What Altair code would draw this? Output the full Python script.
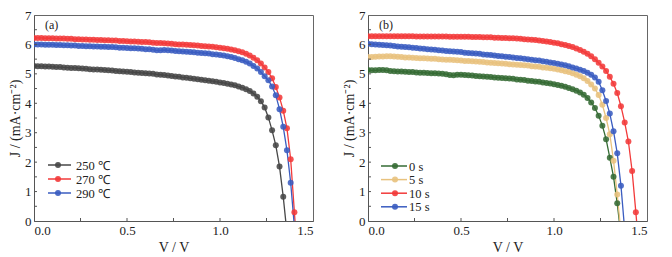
import altair as alt
import pandas as pd

STEP = 0.02

# ---- Panel (a): annealing temperature ----
a_labels = ["250 ℃", "270 ℃", "290 ℃"]
a_colors = ["#474747", "#f23a3a", "#3a5cc0"]
j_250 = [5.27, 5.26, 5.26, 5.25, 5.25, 5.24, 5.23, 5.23, 5.22, 5.21, 5.20, 5.20, 5.19, 5.18, 5.17, 5.16,
         5.15, 5.15, 5.14, 5.13, 5.12, 5.11, 5.10, 5.09, 5.08, 5.07, 5.06, 5.05, 5.04, 5.03, 5.02, 5.01,
         5.00, 4.98, 4.97, 4.96, 4.94, 4.93, 4.91, 4.90, 4.88, 4.87, 4.85, 4.83, 4.82, 4.80, 4.78, 4.77,
         4.75, 4.73, 4.71, 4.69, 4.66, 4.64, 4.61, 4.57, 4.53, 4.48, 4.42, 4.33, 4.22, 4.07, 3.86, 3.52,
         3.08, 2.57, 1.85, 0.82, -0.40]
j_270 = [6.22, 6.22, 6.22, 6.21, 6.21, 6.21, 6.20, 6.20, 6.20, 6.19, 6.19, 6.18, 6.18, 6.17, 6.17, 6.16,
         6.16, 6.15, 6.15, 6.14, 6.14, 6.13, 6.13, 6.12, 6.12, 6.11, 6.10, 6.10, 6.09, 6.08, 6.08, 6.07,
         6.06, 6.05, 6.05, 6.04, 6.03, 6.02, 6.01, 6.00, 6.00, 5.99, 5.98, 5.97, 5.96, 5.95, 5.94, 5.93,
         5.92, 5.90, 5.89, 5.87, 5.85, 5.83, 5.80, 5.77, 5.73, 5.68, 5.62, 5.55, 5.46, 5.35, 5.22, 5.06,
         4.85, 4.55, 4.20, 3.75, 3.15, 2.10, 0.30, -1.50]
j_290 = [6.00, 6.00, 6.00, 5.99, 5.99, 5.99, 5.98, 5.98, 5.97, 5.97, 5.96, 5.96, 5.95, 5.95, 5.94, 5.94,
         5.93, 5.93, 5.92, 5.92, 5.91, 5.91, 5.90, 5.89, 5.89, 5.88, 5.87, 5.87, 5.86, 5.85, 5.84, 5.84,
         5.82, 5.80, 5.80, 5.81, 5.80, 5.79, 5.78, 5.77, 5.76, 5.75, 5.74, 5.73, 5.72, 5.71, 5.70, 5.69,
         5.67, 5.66, 5.64, 5.62, 5.60, 5.57, 5.54, 5.50, 5.46, 5.41, 5.35, 5.27, 5.18, 5.06, 4.92, 4.78,
         4.57, 4.27, 3.80, 3.20, 2.40, 1.30, -0.20]

# ---- Panel (b): treatment time ----
b_labels = ["0 s", "5 s", "10 s", "15 s"]
b_colors = ["#356b34", "#e8c27e", "#f23a3a", "#3a5cc0"]
j_0s = [5.13, 5.12, 5.12, 5.13, 5.13, 5.12, 5.10, 5.09, 5.08, 5.08, 5.07, 5.06, 5.06, 5.05, 5.04, 5.04,
        5.03, 5.02, 5.02, 5.01, 5.00, 4.99, 4.96, 4.95, 4.97, 4.97, 4.96, 4.95, 4.94, 4.93, 4.92, 4.91,
        4.90, 4.89, 4.88, 4.87, 4.86, 4.85, 4.84, 4.83, 4.81, 4.80, 4.79, 4.77, 4.76, 4.74, 4.73, 4.71,
        4.69, 4.67, 4.65, 4.62, 4.60, 4.56, 4.52, 4.48, 4.43, 4.37, 4.29, 4.18, 4.03, 3.84, 3.58, 3.24,
        2.78, 2.15, 1.50, 0.60, -0.50]
j_5s = [5.57, 5.57, 5.58, 5.59, 5.59, 5.60, 5.60, 5.59, 5.58, 5.57, 5.56, 5.56, 5.55, 5.54, 5.53, 5.53,
        5.52, 5.51, 5.51, 5.50, 5.49, 5.48, 5.48, 5.47, 5.46, 5.45, 5.44, 5.44, 5.43, 5.42, 5.41, 5.40,
        5.39, 5.38, 5.37, 5.36, 5.35, 5.34, 5.33, 5.32, 5.31, 5.30, 5.29, 5.28, 5.26, 5.25, 5.24, 5.22,
        5.21, 5.19, 5.17, 5.15, 5.12, 5.09, 5.06, 5.02, 4.97, 4.92, 4.85, 4.76, 4.64, 4.50, 4.28, 3.95,
        3.50, 2.95, 2.05, 0.90, -0.40]
j_10s = [6.28, 6.28, 6.28, 6.28, 6.28, 6.28, 6.28, 6.28, 6.28, 6.28, 6.28, 6.28, 6.28, 6.27, 6.27, 6.27,
         6.27, 6.27, 6.27, 6.27, 6.27, 6.27, 6.26, 6.26, 6.26, 6.26, 6.26, 6.26, 6.25, 6.25, 6.25, 6.24,
         6.24, 6.24, 6.23, 6.23, 6.22, 6.22, 6.21, 6.21, 6.20, 6.19, 6.18, 6.17, 6.16, 6.15, 6.13, 6.12,
         6.10, 6.08, 6.06, 6.04, 6.01, 5.98, 5.95, 5.91, 5.86, 5.81, 5.75, 5.68, 5.60, 5.50, 5.38, 5.25,
         5.10, 4.90, 4.66, 4.35, 3.90, 3.35, 2.70, 1.70, 0.30, -1.20]
j_15s = [6.02, 6.01, 6.00, 5.99, 5.98, 5.97, 5.96, 5.95, 5.93, 5.92, 5.91, 5.90, 5.89, 5.88, 5.86, 5.85,
         5.84, 5.83, 5.82, 5.80, 5.79, 5.78, 5.77, 5.76, 5.75, 5.74, 5.72, 5.71, 5.70, 5.69, 5.68, 5.66,
         5.65, 5.64, 5.62, 5.61, 5.60, 5.58, 5.57, 5.56, 5.54, 5.53, 5.51, 5.50, 5.48, 5.46, 5.45, 5.43,
         5.41, 5.39, 5.37, 5.34, 5.32, 5.29, 5.26, 5.22, 5.18, 5.14, 5.10, 5.04, 4.97, 4.88, 4.73, 4.44,
         4.08, 3.65, 3.05, 2.30, 1.20, -0.30]

x_ticks = [0.25, 0.5, 0.75, 1.0, 1.25]
y_ticks = [0.5, 1, 1.5, 2, 2.5, 3, 3.5, 4, 4.5, 5, 5.5, 6, 6.5]
x_labels = [0, 0.5, 1.0, 1.5]
y_labels = [0, 1, 2, 3, 4, 5, 6, 7]

FONT = "Liberation Serif, Times New Roman, serif"
W, H = 279, 206


def long_df(labels, series):
    rows = []
    for lab, js in zip(labels, series):
        for i, j in enumerate(js):
            rows.append({"V": round(i * STEP, 2), "J": j, "s": lab})
    return pd.DataFrame(rows)


X_AXIS = alt.Axis(title="V / V", values=x_labels, format=".1f", labelOverlap=False)
Y_AXIS = alt.Axis(title="J / (mA·cm⁻²)", values=y_labels, format="d", labelOverlap=False)
X_SCALE = alt.Scale(domain=[0, 1.5], nice=False)
Y_SCALE = alt.Scale(domain=[0, 7], nice=False)


def panel(labels, colors, series, tag, leg_top, leg_gap, lx0, lx1, lxc, ltx):
    df = long_df(labels, series)
    cs = alt.Color("s:N", scale=alt.Scale(domain=labels, range=colors), legend=None)
    line = alt.Chart(df).mark_line(strokeWidth=1.3, clip=True).encode(
        x=alt.X("V:Q", scale=X_SCALE, axis=X_AXIS),
        y=alt.Y("J:Q", scale=Y_SCALE, axis=Y_AXIS), color=cs, order="V:Q")
    pts = alt.Chart(df).mark_point(filled=True, size=36, opacity=0.88, clip=True).encode(
        x=alt.X("V:Q", scale=X_SCALE, axis=X_AXIS),
        y=alt.Y("J:Q", scale=Y_SCALE, axis=Y_AXIS), color=cs)
    tdf = pd.DataFrame({"V": x_ticks})
    xt = alt.Chart(tdf).mark_rule(color="#555", strokeWidth=1).encode(
        x=alt.X("V:Q", scale=X_SCALE, axis=X_AXIS), y=alt.value(H), y2=alt.value(H - 3))
    ydf = pd.DataFrame({"J": y_ticks})
    yt = alt.Chart(ydf).mark_rule(color="#555", strokeWidth=1).encode(
        y=alt.Y("J:Q", scale=Y_SCALE, axis=Y_AXIS), x=alt.value(0), x2=alt.value(3))
    lab = alt.Chart(pd.DataFrame({"t": [tag]})).mark_text(
        font=FONT, fontSize=12, align="left", baseline="middle", color="#222").encode(
        text="t:N", x=alt.value(11), y=alt.value(10))
    layers = [line, pts, xt, yt, lab]
    # legend (decoration): line + marker + label per entry
    for i, (name, c) in enumerate(zip(labels, colors)):
        yy = leg_top + leg_gap * i
        ldf = pd.DataFrame({"t": [name]})
        layers.append(alt.Chart(ldf).mark_rule(color=c, strokeWidth=1.5).encode(
            x=alt.value(lx0), x2=alt.value(lx1), y=alt.value(yy)))
        layers.append(alt.Chart(ldf).mark_point(filled=True, size=36, opacity=0.9, color=c).encode(
            x=alt.value(lxc), y=alt.value(yy)))
        layers.append(alt.Chart(ldf).mark_text(font=FONT, fontSize=12.5, align="left",
                                               baseline="middle", color="#222").encode(
            text="t:N", x=alt.value(ltx), y=alt.value(yy + 0.5)))
    return alt.layer(*layers).properties(width=W, height=H)


pa = panel(a_labels, a_colors, [j_250, j_270, j_290], "(a)", 150, 14, 14, 37, 24, 42)
pb = panel(b_labels, b_colors, [j_0s, j_5s, j_10s, j_15s], "(b)", 151, 13.6, 13, 39, 27, 41)

chart = alt.hconcat(pa, pb, spacing=28).resolve_scale(
    color="independent"
).properties(
    padding={"left": 0, "top": 0, "right": 0, "bottom": 0}
).configure(
    font=FONT
).configure_view(
    stroke="#666", strokeWidth=1
).configure_axis(
    labelFont=FONT, titleFont=FONT, labelFontSize=13, titleFontSize=14,
    labelColor="#222", titleColor="#222", titleFontWeight="normal",
    domainColor="#555", ticks=False, tickSize=0, grid=False,
    labelPadding=3, titlePadding=3, labelOverlap=False
).configure_axisY(labelPadding=3, titlePadding=2)

chart.save("out.html", embed_options={"renderer": "svg", "actions": False})
